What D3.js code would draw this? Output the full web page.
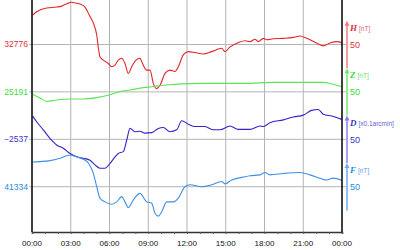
<!DOCTYPE html>
<html>
<head>
<meta charset="utf-8">
<script src="https://cdn.jsdelivr.net/npm/d3@7"></script>
<style>
  body { margin: 0; background: #fff; }
  svg { display: block; font-family: 'Liberation Sans', Arial, sans-serif; }
</style>
</head>
<body>
<svg id="canvas" width="400" height="250"></svg>
<script>
// hours of day and readings for each component
let hoursH = [0.05, 0.36, 1.14, 1.91, 2.30, 2.69, 3.07, 3.46, 3.85, 4.10, 4.49, 4.75, 5.01, 5.13, 5.26, 5.52, 5.91, 6.17, 6.43, 6.68, 6.94, 7.20, 7.46, 7.72, 8.05, 8.36, 8.49, 8.88, 9.14, 9.39, 9.65, 9.91, 10.30, 10.68, 11.07, 11.33, 11.71, 12.10, 12.62, 13.26, 13.91, 14.69, 14.94, 15.33, 15.97, 16.49, 16.88, 17.26, 17.52, 17.91, 18.17, 18.68, 19.46, 20.23, 20.75, 21.27, 22.04, 22.55, 23.07, 23.59, 23.98]
let valuesH = [32838, 32845, 32853, 32855, 32857, 32862, 32865, 32863, 32860, 32855, 32835, 32821, 32796, 32771, 32750, 32743, 32736, 32729, 32733, 32743, 32747, 32736, 32715, 32729, 32743, 32747, 32740, 32722, 32722, 32694, 32683, 32690, 32715, 32722, 32719, 32729, 32754, 32761, 32759, 32756, 32761, 32768, 32761, 32771, 32780, 32784, 32782, 32787, 32782, 32789, 32786, 32788, 32789, 32791, 32794, 32789, 32779, 32773, 32779, 32782, 32780]

let hoursZ = [0.05, 0.62, 1.14, 1.91, 2.94, 3.97, 5.01, 6.04, 6.81, 7.59, 8.36, 9.27, 10.55, 11.59, 13.14, 14.69, 16.49, 18.68, 21.27, 22.52, 23.30, 23.98]
let valuesZ = [25186, 25178, 25171, 25174, 25176, 25176, 25179, 25185, 25192, 25195, 25199, 25202, 25206, 25208, 25209, 25209, 25209, 25211, 25211, 25211, 25207, 25202]

let hoursD = [0.05, 0.36, 0.87, 1.39, 1.91, 2.42, 2.94, 3.46, 3.97, 4.49, 4.88, 5.26, 5.65, 6.04, 6.43, 6.68, 7.07, 7.33, 7.59, 7.97, 8.36, 8.75, 9.27, 9.78, 10.16, 10.68, 11.20, 11.59, 12.10, 12.62, 13.39, 14.04, 14.55, 15.33, 15.97, 16.88, 17.65, 17.91, 18.42, 19.46, 20.23, 21.00, 21.65, 22.16, 22.55, 23.20, 23.98]
let valuesD = [-2488, -2500, -2517, -2535, -2549, -2556, -2567, -2574, -2577, -2581, -2591, -2598, -2598, -2588, -2574, -2567, -2563, -2539, -2514, -2521, -2520, -2524, -2523, -2514, -2512, -2521, -2517, -2498, -2505, -2510, -2510, -2517, -2517, -2509, -2516, -2516, -2509, -2510, -2502, -2496, -2490, -2486, -2476, -2474, -2484, -2488, -2495]

let hoursF = [0.05, 0.62, 1.39, 2.17, 2.94, 3.46, 3.97, 4.36, 4.75, 5.01, 5.26, 5.65, 6.17, 6.56, 6.94, 7.20, 7.46, 7.84, 8.36, 8.88, 9.27, 9.52, 9.78, 10.04, 10.43, 10.94, 11.33, 11.84, 12.23, 13.14, 13.91, 14.69, 14.94, 15.46, 16.49, 16.88, 17.65, 18.04, 18.42, 19.46, 20.75, 21.52, 22.30, 22.81, 23.33, 23.98]
let valuesF = [41386, 41387, 41389, 41394, 41401, 41397, 41392, 41384, 41362, 41334, 41310, 41302, 41297, 41302, 41313, 41302, 41290, 41306, 41320, 41302, 41299, 41278, 41272, 41281, 41302, 41302, 41310, 41334, 41338, 41334, 41338, 41345, 41340, 41348, 41355, 41357, 41359, 41364, 41359, 41362, 41364, 41359, 41352, 41348, 41352, 41347]

let names = ['H', 'Z', 'D', 'F']
let baselines = [32776, 25191, -2537, 41334]
let units = ['[nT]', '[nT]', '[x0.1arcmin]', '[nT]']
let tickLabels = ['00:00', '03:00', '06:00', '09:00', '12:00', '15:00', '18:00', '21:00', '00:00']

let lineColors = ['#e3262c', '#5ee458', '#3422cc', '#3c8fe6']
let labelColors = ['#e0303c', '#3cdc3c', '#3a36c8', '#2a8ae0']
let barColors = ['#f07a80', '#70e870', '#8a7cf0', '#6aaef0']

let series = [
    { t: hoursH, v: valuesH },
    { t: hoursZ, v: valuesZ },
    { t: hoursD, v: valuesD },
    { t: hoursF, v: valuesF }
]

let svg = d3.select('#canvas')

let plotLeft = 32, plotRight = 342, plotTop = 0, plotBottom = 232
let band = 47.4
let firstCenter = 44.5

let x = d3.scaleLinear().domain([0, 24]).range([plotLeft, plotRight])

// one scale per component: 100 units over one band, baseline in the middle
let yScales = baselines.map((b, i) => {
    let c = firstCenter + i * band
    return d3.scaleLinear().domain([b - 50, b + 50]).range([c + band / 2, c - band / 2])
})

// vertical grid every 3 hours
svg.append('g')
    .selectAll('line')
    .data(d3.range(3, 24, 3))
    .enter()
    .append('line')
    .attr('x1', (d) => x(d))
    .attr('x2', (d) => x(d))
    .attr('y1', plotTop)
    .attr('y2', plotBottom)
    .attr('stroke', '#b4b4b4')
    .attr('stroke-width', 1)

// horizontal grid at each baseline
svg.append('g')
    .selectAll('line')
    .data(baselines)
    .enter()
    .append('line')
    .attr('x1', plotLeft - 3)
    .attr('x2', plotRight + 4)
    .attr('y1', (d, i) => yScales[i](d))
    .attr('y2', (d, i) => yScales[i](d))
    .attr('stroke', '#b4b4b4')
    .attr('stroke-width', 1)

// left baseline labels
svg.append('g')
    .selectAll('text')
    .data(baselines)
    .enter()
    .append('text')
    .attr('x', plotLeft - 4)
    .attr('y', (d, i) => yScales[i](d))
    .attr('dy', '0.35em')
    .attr('text-anchor', 'end')
    .attr('font-size', 8.5)
    .attr('fill', (d, i) => labelColors[i])
    .text((d) => d < 0 ? '\u2212' + Math.abs(d) : d)

// data lines
let line = (i) => d3.line()
    .x((d) => x(d[0]))
    .y((d) => yScales[i](d[1]))
    .curve(d3.curveMonotoneX)

series.forEach((s, i) => {
    svg.append('path')
        .datum(s.t.map((t, j) => [t, s.v[j]]))
        .attr('d', line(i))
        .attr('fill', 'none')
        .attr('stroke', lineColors[i])
        .attr('stroke-width', 1.1)
        .attr('stroke-linejoin', 'round')
})

// frame: left and right axis lines
svg.append('line')
    .attr('x1', plotLeft).attr('x2', plotLeft)
    .attr('y1', plotTop).attr('y2', plotBottom)
    .attr('stroke', '#000').attr('stroke-width', 1.5)
svg.append('line')
    .attr('x1', plotRight).attr('x2', plotRight)
    .attr('y1', plotTop).attr('y2', plotBottom)
    .attr('stroke', '#000').attr('stroke-width', 1.5)

// bottom axis
let xAxis = svg.append('g')
    .attr('transform', 'translate(0,' + plotBottom + ')')
    .call(
        d3.axisBottom(x)
            .tickValues(d3.range(0, 25, 1))
            .tickSize(2)
            .tickFormat('')
    )
xAxis.select('.domain').attr('stroke', '#333').attr('stroke-width', 1.6)
xAxis.selectAll('.tick line').attr('stroke', '#555')

svg.append('g')
    .selectAll('text')
    .data(tickLabels)
    .enter()
    .append('text')
    .attr('x', (d, i) => x(i * 3))
    .attr('y', 246)
    .attr('text-anchor', 'middle')
    .attr('font-size', 8)
    .attr('fill', '#111')
    .text((d) => d)

// right side scale bars
let bars = svg.append('g')
baselines.forEach((b, i) => {
    let y0 = yScales[i](b - 50)
    let y1 = yScales[i](b + 50)
    let bx = plotRight + 5
    bars.append('line')
        .attr('x1', bx).attr('x2', bx)
        .attr('y1', y0).attr('y2', y1 + 3)
        .attr('stroke', barColors[i])
        .attr('stroke-width', 1.5)
    bars.append('path')
        .attr('d', 'M' + (bx - 2.5) + ',' + (y1 + 5) + 'L' + bx + ',' + y1 + 'L' + (bx + 2.5) + ',' + (y1 + 5) + 'Z')
        .attr('fill', barColors[i])
    let lab = bars.append('text')
        .attr('x', bx + 3)
        .attr('y', y1 + 10)
        .attr('fill', labelColors[i])
    lab.append('tspan')
        .attr('font-family', "'Liberation Serif', 'DejaVu Serif', serif")
        .attr('font-style', 'italic')
        .attr('font-weight', 'bold')
        .attr('font-size', 9)
        .text(names[i])
    lab.append('tspan')
        .attr('dx', 2)
        .attr('font-size', 6.5)
        .attr('opacity', 0.8)
        .text(units[i])
    bars.append('text')
        .attr('x', bx + 3)
        .attr('y', yScales[i](b))
        .attr('dy', '0.38em')
        .attr('font-size', 9)
        .attr('fill', labelColors[i])
        .text('50')
})
</script>
</body>
</html>
